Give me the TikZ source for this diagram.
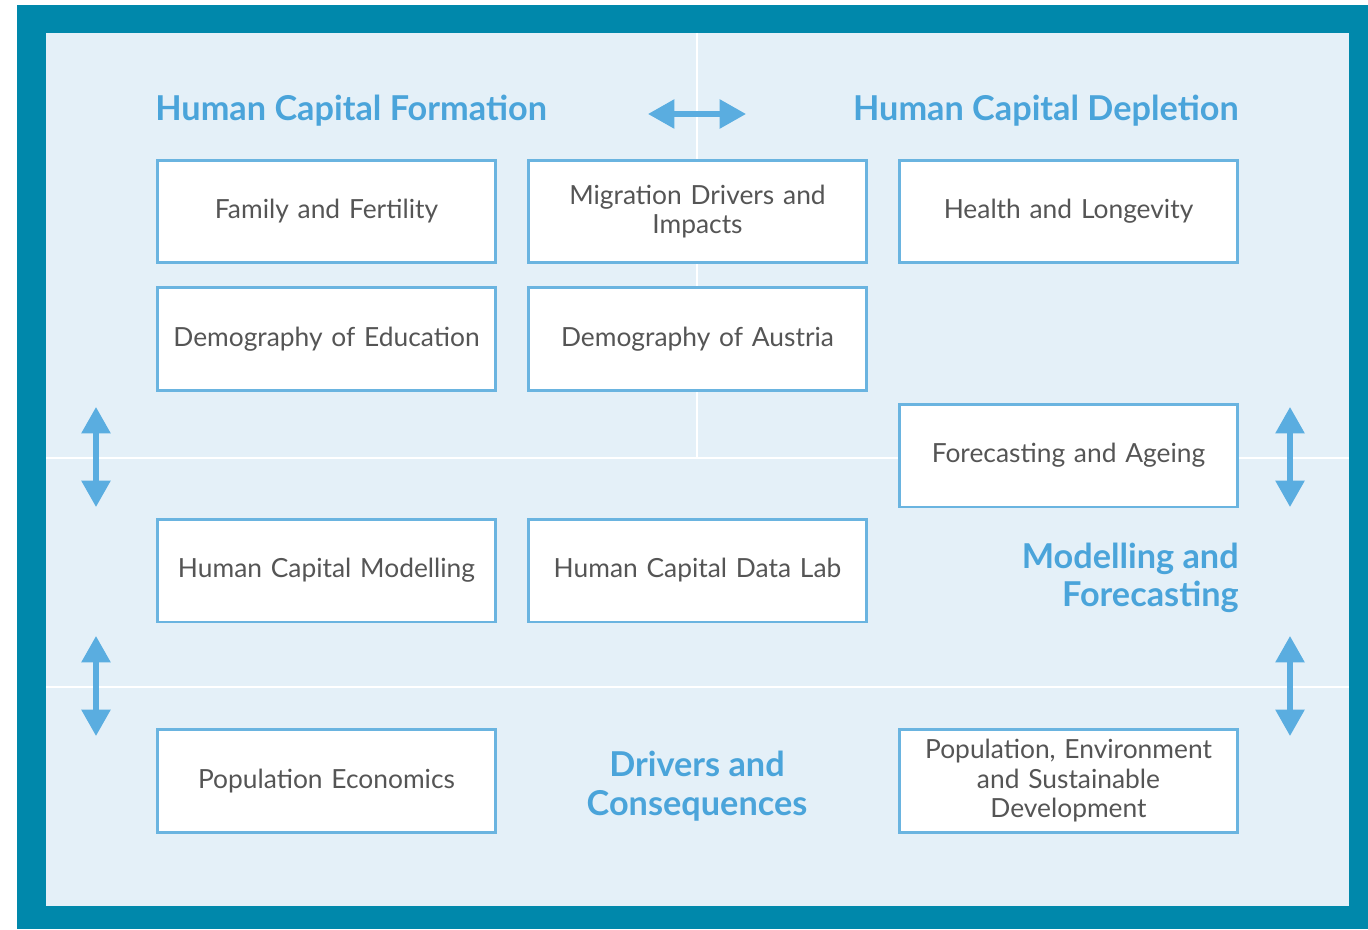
\documentclass[tikz,border=0pt]{standalone}
\usepackage{fontspec}
\setmainfont{Lato}
\usepackage{tikz}
\usetikzlibrary{arrows.meta,positioning}
\usepackage{xcolor}

\definecolor{frameteal}{HTML}{0088AB}
\definecolor{panelblue}{HTML}{E4F0F8}
\definecolor{boxline}{HTML}{6AB4E0}
\definecolor{titleblue}{HTML}{4AA4DA}
\definecolor{arrowblue}{HTML}{5AADE0}
\definecolor{boxtext}{HTML}{555555}

\begin{document}
\begin{tikzpicture}[
    x=0.02cm, y=-0.02cm,
    topic/.style={draw=boxline, line width=1.7pt, fill=white, minimum width=6.78cm, minimum height=2.06cm,
        align=center, text width=6.5cm, font=\fontsize{15}{16.8}\selectfont, text=boxtext, inner sep=0pt},
    heading/.style={font=\fontsize{19.5}{21.8}\selectfont\bfseries, text=titleblue, inner sep=0pt},
    divider/.style={draw=white, line width=1.6pt},
    arrow/.style={{Triangle[length=15pt,width=16pt]}-{Triangle[length=15pt,width=16pt]}, draw=arrowblue, line width=3pt}
]
\useasboundingbox (0,0) rectangle (1368,929);
\fill[white] (0,0) rectangle (1368,929);

% Frame and panel
\fill[frameteal] (17,5) rectangle (1368,929);
\fill[panelblue] (46,33) rectangle (1349,906);

% Dividers
\draw[divider] (697,33) -- (697,458);
\draw[divider] (46,458) -- (1349,458);
\draw[divider] (46,687) -- (1349,687);

% Headings
\node[heading, anchor=west] (formation) at (155,111) {Human Capital Formation};
\node[heading, anchor=east] (depletion) at (1239,111) {Human Capital Depletion};
\node[heading, anchor=east, align=right] (modelling) at (1239,578) {Modelling and\\Forecasting};
\node[heading, align=center] (drivers) at (697,786) {Drivers and\\Consequences};

% Top row
\node[topic] (family) at (326.5,211.5) {Family and Fertility};
\node[topic] (migration) at (697.5,211.5) {Migration Drivers and\\Impacts};
\node[topic] (health) at (1068.5,211.5) {Health and Longevity};

% Second row
\node[topic] (education) at (326.5,339) {Demography of Education};
\node[topic] (austria) at (697.5,339) {Demography of Austria};

% Forecasting
\node[topic] (ageing) at (1068.5,455.5) {Forecasting and Ageing};

% Modelling row
\node[topic] (hcmodel) at (326.5,570.5) {Human Capital Modelling};
\node[topic] (datalab) at (697.5,570.5) {Human Capital Data Lab};

% Bottom row
\node[topic] (economics) at (326.5,781) {Population Economics};
\node[topic] (environment) at (1068.5,781) {Population, Environment\\and Sustainable\\Development};

% Arrows
\coordinate (hl) at (648,114);
\coordinate (hr) at (746,114);
\draw[arrow] (hl) -- (hr);
\coordinate (lat) at (96,407);
\coordinate (lab) at (96,507);
\draw[arrow] (lat) -- (lab);
\coordinate (lbt) at (96,636);
\coordinate (lbb) at (96,736);
\draw[arrow] (lbt) -- (lbb);
\coordinate (rat) at (1290,407);
\coordinate (rab) at (1290,507);
\draw[arrow] (rat) -- (rab);
\coordinate (rbt) at (1290,636);
\coordinate (rbb) at (1290,736);
\draw[arrow] (rbt) -- (rbb);

\end{tikzpicture}
\end{document}
